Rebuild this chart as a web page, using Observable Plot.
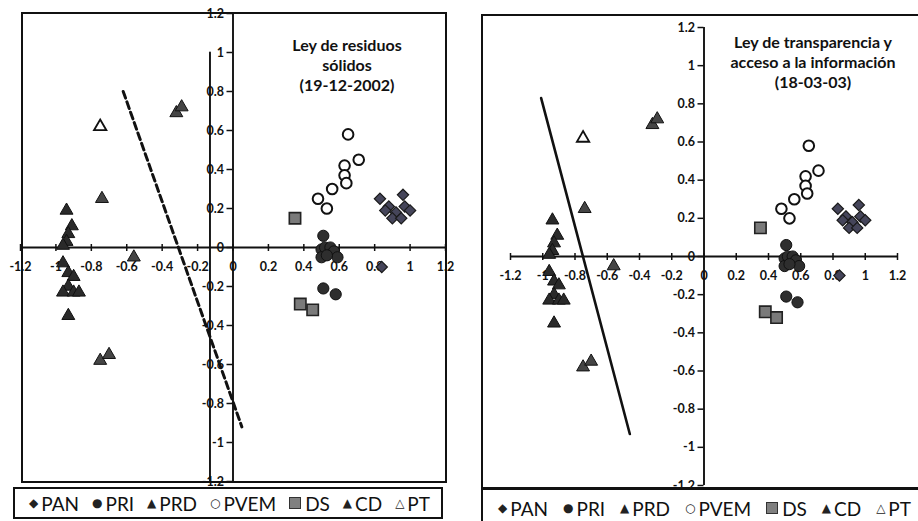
<!DOCTYPE html>
<html><head><meta charset="utf-8">
<script src="https://cdn.jsdelivr.net/npm/d3@7"></script>
<script src="https://cdn.jsdelivr.net/npm/@observablehq/plot@0.6"></script>
<style>
body{margin:0;background:#fff;}
#wrap{position:relative;width:918px;height:521px;overflow:hidden;background:#fff;font-family:Lato,"Open Sans",sans-serif;}
.box{position:absolute;border:2px solid #111;box-sizing:border-box;pointer-events:none;}
.title{position:absolute;text-align:center;font-weight:700;font-size:16px;line-height:20px;color:#111;transform:translateX(-50%);white-space:nowrap;}
.legend{position:absolute;display:flex;align-items:center;justify-content:space-between;font-size:19px;color:#111;white-space:nowrap;box-sizing:border-box;}
.legend .item{display:flex;align-items:center;}
.legend .mk{font-family:"DejaVu Sans",sans-serif;font-size:12px;margin-right:3px;color:#222;}
.legend .sq{display:inline-block;width:10px;height:10px;background:#808080;border:1px solid #333;margin-right:4px;}
.plotwrap{position:absolute;top:0;}
</style></head><body><div id="wrap"></div>
<script>
// ---- data ----
const partyNames = ["PAN","PRI","PRD","PVEM","DS","CD","PT"];
const panX = [0.83, 0.96, 0.88, 0.92, 0.97, 1.00, 0.90, 0.95, 0.86, 0.84];
const panY = [0.25, 0.27, 0.21, 0.18, 0.21, 0.19, 0.15, 0.15, 0.19, -0.10];
const priX = [0.51, 0.50, 0.52, 0.55, 0.57, 0.59, 0.50, 0.53, 0.51, 0.58];
const priY = [0.06, -0.01, 0.00, 0.00, -0.02, -0.05, -0.05, -0.04, -0.21, -0.24];
const prdX = [-0.94, -0.91, -0.93, -0.94, -0.96, -0.96, -0.93, -0.90, -0.93, -0.96, -0.90, -0.87, -0.93];
const prdY = [0.19, 0.11, 0.07, 0.03, 0.01, -0.08, -0.13, -0.15, -0.20, -0.23, -0.23, -0.23, -0.35];
const pvemX = [0.65, 0.71, 0.63, 0.63, 0.64, 0.56, 0.48, 0.53];
const pvemY = [0.58, 0.45, 0.42, 0.37, 0.33, 0.30, 0.25, 0.20];
const dsX = [0.35, 0.38, 0.45];
const dsY = [0.15, -0.29, -0.32];
const cdX = [-0.32, -0.29, -0.75, -0.70, -0.56, -0.74];
const cdY = [0.69, 0.72, -0.58, -0.55, -0.05, 0.25];
const ptX = [-0.75];
const ptY = [0.62];
const fitResiduosX = [-0.62, 0.05];
const fitResiduosY = [0.80, -0.92];
const fitTranspX = [-1.01, -0.46];
const fitTranspY = [0.83, -0.93];
const strayAxisX = [-0.13, -0.13];
const strayAxisY = [1.0, -1.2];
const tickValues = [-1.2, -1, -0.8, -0.6, -0.4, -0.2, 0, 0.2, 0.4, 0.6, 0.8, 1, 1.2];
const titleResiduos = ["Ley de residuos", "sólidos", "(19-12-2002)"];
const titleTransp = ["Ley de transparencia y", "acceso a la información", "(18-03-03)"];

// ---- build ----
const diamondSq = {draw(ctx, size){ const r = Math.sqrt(size/2); ctx.moveTo(0,-r); ctx.lineTo(r,0); ctx.lineTo(0,r); ctx.lineTo(-r,0); ctx.closePath(); }};
const pts = (xs, ys) => xs.map((x,i) => ({x, y: ys[i]}));
const seriesData = {
  PAN: pts(panX, panY), PRI: pts(priX, priY), PRD: pts(prdX, prdY), PVEM: pts(pvemX, pvemY),
  DS: pts(dsX, dsY), CD: pts(cdX, cdY), PT: pts(ptX, ptY)
};
const styles = {
  PAN: {symbol: diamondSq, r: 4.5, fill: "#45455a", stroke: "#1a1a1a", strokeWidth: 1.2},
  PRI: {symbol: "circle", r: 5.6, fill: "#2e2e2e", stroke: "#111", strokeWidth: 1},
  PRD: {symbol: "triangle", r: 4.8, fill: "#2a2a2a", stroke: "#111", strokeWidth: 1},
  PVEM: {symbol: "circle", r: 5.3, fill: "white", stroke: "#111", strokeWidth: 2},
  DS: {symbol: "square", r: 6.4, fill: "#7a7a7a", stroke: "#222", strokeWidth: 1.6},
  CD: {symbol: "triangle", r: 4.8, fill: "#454545", stroke: "#111", strokeWidth: 1},
  PT: {symbol: "triangle", r: 4.6, fill: "white", stroke: "#111", strokeWidth: 1.8}
};

function panel(opts) {
  const font = {fontSize: 12.5, fontWeight: 700, fill: "#111", fontFamily: "Lato"};
  const marks = [
    Plot.ruleY([0], {stroke: "#111", strokeWidth: 1.9}),
    Plot.ruleX([0], {stroke: "#111", strokeWidth: 1.9}),
    Plot.ruleX(tickValues, {y1: 0, y2: 0, insetTop: -3, insetBottom: -4, stroke: "#111", strokeWidth: 1.5}),
    Plot.ruleY(tickValues, {x1: 0, x2: 0, insetLeft: -6, stroke: "#111", strokeWidth: 1.5}),
    Plot.text(tickValues, {x: d => d, y: 0, dy: 19, text: d => String(d), ...font}),
    Plot.text(tickValues, {x: 0, y: d => d, dx: -9, textAnchor: "end", text: d => String(d), ...font})
  ];
  if (opts.stray) marks.push(Plot.line(pts(strayAxisX, strayAxisY), {x: "x", y: "y", stroke: "#111", strokeWidth: 1.9}));
  marks.push(Plot.line(opts.fit, {x: "x", y: "y", stroke: "#111", strokeWidth: opts.dashed ? 3 : 2.6, strokeDasharray: opts.dashed ? "7,4" : null}));
  for (const p of partyNames) {
    marks.push(Plot.dot(seriesData[p], {x: "x", y: "y", ...styles[p]}));
  }
  return Plot.plot({
    width: opts.width, height: 490,
    marginLeft: opts.ml, marginRight: opts.mr, marginTop: opts.mt, marginBottom: opts.mb,
    x: {domain: [-1.2, 1.2], axis: null},
    y: {domain: [-1.2, 1.2], axis: null},
    style: {background: "transparent", overflow: "visible"},
    marks
  });
}

const wrap = document.getElementById("wrap");
function addPlot(svg, left, width) {
  const d = document.createElement("div");
  d.className = "plotwrap";
  d.style.left = left + "px"; d.style.width = width + "px";
  d.appendChild(svg); wrap.appendChild(d);
}
addPlot(panel({width: 460, ml: 20, mr: 15, mt: 13, mb: 9, fit: pts(fitResiduosX, fitResiduosY), dashed: true, stray: true}), 0, 460);
addPlot(panel({width: 458, ml: 50, mr: 21, mt: 27, mb: 5, fit: pts(fitTranspX, fitTranspY), dashed: false, stray: false}), 460, 458);

function addBox(l, t, w, h) {
  const b = document.createElement("div"); b.className = "box";
  Object.assign(b.style, {left: l + "px", top: t + "px", width: w + "px", height: h + "px"});
  wrap.appendChild(b); return b;
}
addBox(21, 12, 426, 471);
addBox(481, 14, 460, 475);

function addTitle(lines, cx, top) {
  const t = document.createElement("div"); t.className = "title";
  t.style.left = cx + "px"; t.style.top = top + "px";
  t.innerHTML = lines.join("<br>");
  wrap.appendChild(t);
}
addTitle(titleResiduos, 347, 35);
addTitle(titleTransp, 813, 32);

const legendMarks = {PAN: "◆", PRI: "●", PRD: "▲", PVEM: "○", DS: null, CD: "▲", PT: "△"};
function addLegend(l, t, w, h, pl, pr) {
  const b = addBox(l, t, w, h);
  b.classList.add("legend");
  b.style.paddingLeft = pl + "px"; b.style.paddingRight = pr + "px";
  for (const p of partyNames) {
    const it = document.createElement("span"); it.className = "item";
    const m = document.createElement("span");
    if (legendMarks[p]) { m.className = "mk"; m.textContent = legendMarks[p]; }
    else m.className = "sq";
    it.appendChild(m);
    const tx = document.createElement("span"); tx.textContent = p;
    it.appendChild(tx);
    b.appendChild(it);
  }
}
addLegend(13, 487, 430, 32, 14, 11);
addLegend(481, 488, 460, 40, 15, 28);
</script></body></html>
